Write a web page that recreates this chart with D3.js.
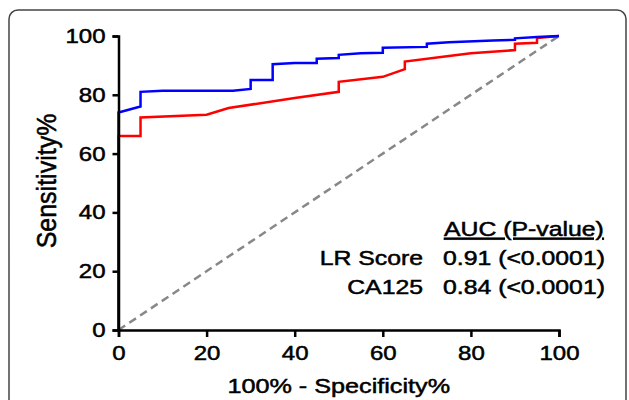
<!DOCTYPE html>
<html>
<head>
<meta charset="utf-8">
<script src="https://cdn.jsdelivr.net/npm/d3@7"></script>
<style>
  body { margin: 0; background: #fff; }
  svg text { font-family: "Liberation Sans", Arial, sans-serif; fill: #000; stroke: #000; stroke-width: 0.5px; }
</style>
</head>
<body>
<svg id="roc" width="629" height="400"></svg>
<script>
// ROC curve points (100% - specificity, sensitivity)
var lrSpec = [0, 0, 5, 5, 10, 26, 30, 30, 35, 35, 40, 45, 45, 50, 50, 55, 60, 60, 70, 70, 75, 85, 90, 90, 95, 100];
var lrSens = [0, 74, 76, 81, 81.4, 81.4, 82, 85, 85, 90.4, 90.8, 90.8, 92.3, 92.5, 93.6, 94.1, 94.3, 96, 96.3, 97.4, 97.9, 98.5, 98.7, 99.2, 99.7, 100];

var caSpec = [0, 0, 5, 5, 20, 25, 40, 50, 50, 60, 65, 65, 75, 80, 90, 90, 95, 95, 100];
var caSens = [0, 66, 66, 72.3, 73.2, 75.5, 78.9, 81, 84.4, 86.1, 88.7, 91.3, 93.2, 94.1, 95.2, 97.4, 97.7, 99.3, 100];

var refLine = [0, 100];

var xTicks = [0, 20, 40, 60, 80, 100];
var yTicks = [0, 20, 40, 60, 80, 100];

var legendHead = "AUC (P-value)";
var legendNames = ["LR Score", "CA125"];
var legendVals = ["0.91 (<0.0001)", "0.84 (<0.0001)"];

var margin = {"left": 118.5, "right": 70, "top": 36, "bottom": 70};
var W = 629, H = 400;
var stretch = 1.2;    // text in the picture looks widened
var legStretch = 1.24;

var svg = d3.select("#roc");

// rounded frame, runs off the bottom
svg.append("rect")
   .attr("x", 9).attr("y", 10)
   .attr("width", 617).attr("height", 420)
   .attr("rx", 9)
   .attr("fill", "none")
   .attr("stroke", "#444")
   .attr("stroke-width", 1.5);

var x = d3.scaleLinear().domain([0, 100]).range([margin.left, W - margin.right]);
var y = d3.scaleLinear().domain([0, 100]).range([H - margin.bottom, margin.top]);

function toPoints(xs, ys)
{
  return xs.map(function(d, i) { return [d, ys[i]]; });
}

var line = d3.line()
             .x(function(d) { return x(d[0]); })
             .y(function(d) { return y(d[1]); });

// chance line
svg.append("path")
   .datum(toPoints(refLine, refLine))
   .attr("d", line)
   .attr("fill", "none")
   .attr("stroke", "#888")
   .attr("stroke-width", 2.5)
   .attr("stroke-dasharray", "8,5");

svg.append("path")
   .datum(toPoints(caSpec, caSens))
   .attr("d", line)
   .attr("fill", "none")
   .attr("stroke", "#ff0000")
   .attr("stroke-width", 2.5);

svg.append("path")
   .datum(toPoints(lrSpec, lrSens))
   .attr("d", line)
   .attr("fill", "none")
   .attr("stroke", "#0000ff")
   .attr("stroke-width", 2.5);

// axes
var xAxis = d3.axisBottom(x).tickValues(xTicks).tickSize(7).tickPadding(9);
var yAxis = d3.axisLeft(y).tickValues(yTicks).tickSize(6).tickPadding(4);

var gx = svg.append("g")
            .attr("transform", "translate(0," + y(0) + ")")
            .call(xAxis);
var gy = svg.append("g")
            .attr("transform", "translate(" + x(0) + ",0)")
            .call(yAxis);

[gx, gy].forEach(function(g) {
  g.select(".domain").attr("stroke", "#000").attr("stroke-width", 2.5);
  g.selectAll(".tick line").attr("stroke", "#000").attr("stroke-width", 2.5);
  g.selectAll(".tick text")
   .style("font-size", "20px")
   .attr("fill", "#000");
});

gx.selectAll(".tick text")
  .attr("dy", "0.71em")
  .attr("transform", "scale(" + stretch + ",1)");

gy.selectAll(".tick text")
  .attr("x", -13 / stretch)
  .attr("transform", "scale(" + stretch + ",1)");

// axis titles
svg.append("text")
   .attr("transform", "translate(" + x(50) + ",393) scale(" + stretch + ",1)")
   .attr("text-anchor", "middle")
   .style("font-size", "21px")
   .text("100% - Specificity%");

svg.append("text")
   .attr("transform", "translate(56,181) rotate(-90) scale(1,1.1)")
   .attr("text-anchor", "middle")
   .style("font-size", "25px")
   .text("Sensitivity%");

// AUC legend
var leg = svg.append("g");

leg.append("text")
   .attr("transform", "translate(444,236) scale(" + legStretch + ",1)")
   .style("font-size", "20px")
   .style("text-decoration", "underline")
   .text(legendHead);

legendNames.forEach(function(name, i) {
  var by = 265 + i * 29;
  leg.append("text")
     .attr("transform", "translate(423," + by + ") scale(" + legStretch + ",1)")
     .attr("text-anchor", "end")
     .style("font-size", "20px")
     .text(name);
  leg.append("text")
     .attr("transform", "translate(443," + by + ") scale(" + legStretch + ",1)")
     .style("font-size", "20px")
     .text(legendVals[i]);
});
</script>
</body>
</html>
